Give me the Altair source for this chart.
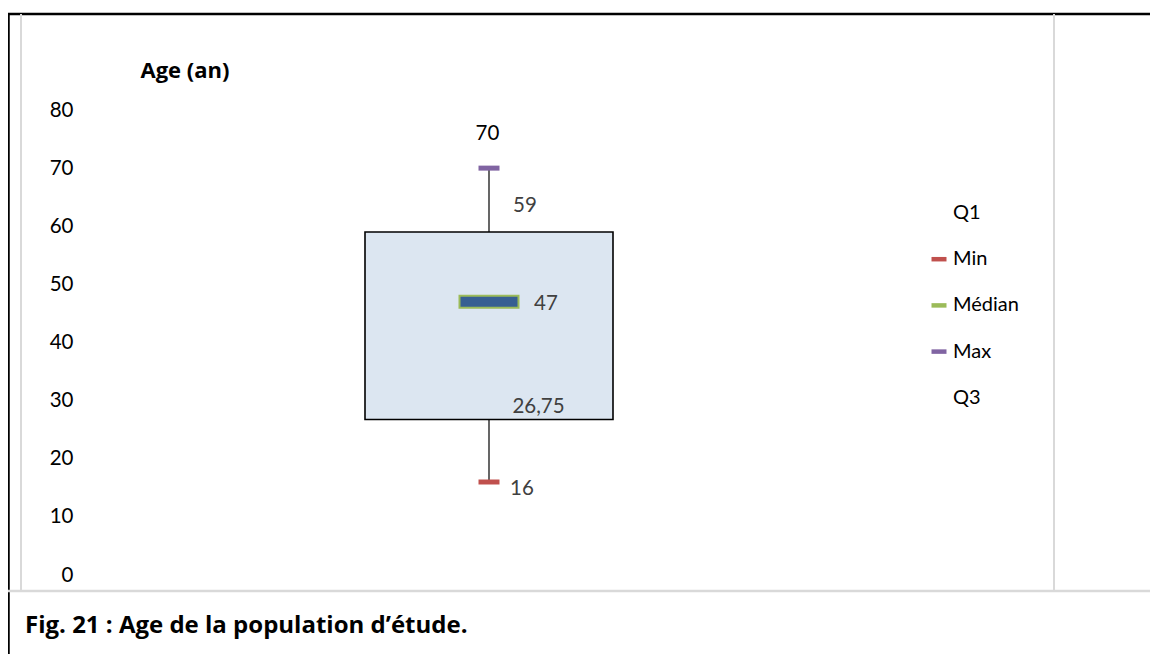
import altair as alt
import pandas as pd

# ---- data ----
category = ["Age"]
series = ["Q1", "Min", "Médian", "Max", "Q3"]
values = [26.75, 16, 47, 70, 59]
labels = ["26,75", "16", "47", "70", "59"]
colors = ["transparent", "#C0504D", "#9BBB59", "#8064A2", "transparent"]
y_ticks = [0, 10, 20, 30, 40, 50, 60, 70, 80]

FONT = "Lato"
BOLD_FONT = "Open Sans"
stat = dict(zip(series, values))

long_df = pd.DataFrame({"cat": category * len(series), "series": series,
                        "value": values, "label": labels})
wide_df = pd.DataFrame({"cat": category, "q1": [stat["Q1"]], "q3": [stat["Q3"]],
                        "mn": [stat["Min"]], "mx": [stat["Max"]], "med": [stat["Médian"]]})

W, H = 830, 465
x_enc = alt.X("cat:N", axis=None, scale=alt.Scale(domain=category))
y_scale = alt.Scale(domain=[0, 80], nice=False, zero=True)
y_axis = alt.Axis(values=y_ticks, domain=False, ticks=False, grid=False,
                  labelPadding=1, labelFontSize=20.5, labelFont=FONT, labelColor="#000000",
                  title="Age (an)", titleAngle=0, titleX=66, titleY=-40,
                  titleAlign="left", titleBaseline="middle", titleFont=BOLD_FONT,
                  titleFontSize=22, titleFontWeight="bold", titleColor="#000000")

base_wide = alt.Chart(wide_df)

whisker = base_wide.mark_rule(color="#404040", strokeWidth=1.6).encode(
    x=x_enc, y=alt.Y("mn:Q", scale=y_scale, axis=y_axis), y2="mx:Q")

box = base_wide.mark_bar(size=248, fill="#DCE6F1", stroke="#000000", strokeWidth=1.6).encode(
    x=x_enc, y=alt.Y("q1:Q", scale=y_scale), y2="q3:Q")

median = base_wide.mark_tick(size=59, thickness=12, fill="#375F92", stroke="#9BBB59",
                             strokeWidth=2, opacity=1, filled=True).encode(
    x=x_enc, y=alt.Y("med:Q", scale=y_scale))

minmax = alt.Chart(long_df).transform_filter(
    alt.FieldOneOfPredicate(field="series", oneOf=["Min", "Max"])
).mark_tick(size=21, thickness=5, opacity=1, filled=True).encode(
    x=x_enc, y=alt.Y("value:Q", scale=y_scale),
    color=alt.Color("series:N", scale=alt.Scale(domain=series, range=colors),
                    legend=alt.Legend(title=None, orient="none", legendX=855, legendY=93,
                                      symbolType="M-1,-0.3H1V0.3H-1Z", symbolSize=225,
                                      symbolStrokeWidth=0, labelFont=FONT, labelFontSize=20,
                                      labelColor="#000000", labelOffset=4, rowPadding=26.2,
                                      padding=0)))

def value_label(name, dx, dy, color="#404040"):
    return alt.Chart(long_df).transform_filter(
        alt.FieldEqualPredicate(field="series", equal=name)
    ).mark_text(font=FONT, fontSize=20.5, color=color, dx=dx, dy=dy,
                align="center", baseline="middle").encode(
        x=x_enc, y=alt.Y("value:Q", scale=y_scale), text="label:N")

texts = [
    value_label("Max", -1.5, -34, "#000000"),
    value_label("Q3", 36, -26),
    value_label("Médian", 57, 2),
    value_label("Q1", 49.5, -13),
    value_label("Min", 33, 7),
]

# decorative frame (document layout around the chart)
def frame_line(x, x2, y, y2, color, width):
    return alt.Chart(pd.DataFrame({"k": [0]})).mark_rule(color=color, strokeWidth=width).encode(
        x=alt.value(x), x2=alt.value(x2), y=alt.value(y), y2=alt.value(y2))

frame = [
    frame_line(-66, 1076, -96, -96, "#000000", 2.5),
    frame_line(-65.5, -65.5, -96, 560, "#000000", 2.5),
    frame_line(-53, -53, -96, 481, "#D9D9D9", 2),
    frame_line(980, 980, -96, 481, "#D9D9D9", 2),
    frame_line(-66, 1076, 481, 481, "#D9D9D9", 2.5),
]

caption = alt.Chart(pd.DataFrame({"t": ["Fig. 21 : Age de la population d’étude."]})).mark_text(
    font=BOLD_FONT, fontSize=24, fontWeight="bold", color="#000000", align="left", baseline="middle"
).encode(x=alt.value(-49), y=alt.value(516), text="t:N")

chart = alt.layer(*frame, whisker, box, median, minmax, *texts, caption).properties(
    width=W, height=H,
    autosize=alt.AutoSizeParams(type="none"),
    padding={"left": 66, "top": 102, "right": 246, "bottom": 79},
).configure(background="#FFFFFF").configure_view(stroke=None, strokeWidth=0)

chart.save("out.html", embed_options={"renderer": "svg", "actions": False})
